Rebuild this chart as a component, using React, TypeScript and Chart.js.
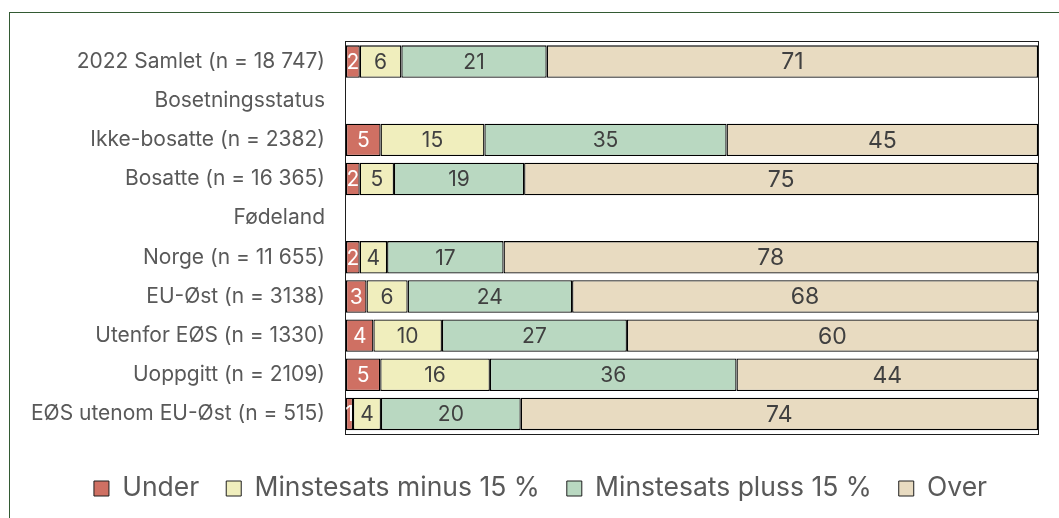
import React, { useEffect, useRef } from "react";
import { Chart, registerables } from "chart.js";

Chart.register(...registerables);

const categories = [
  "2022 Samlet (n = 18 747)",
  "Bosetningsstatus",
  "Ikke-bosatte (n = 2382)",
  "Bosatte (n = 16 365)",
  "Fødeland",
  "Norge (n = 11 655)",
  "EU-Øst (n = 3138)",
  "Utenfor EØS (n = 1330)",
  "Uoppgitt (n = 2109)",
  "EØS utenom EU-Øst (n = 515)",
];

const seriesNames = ["Under", "Minstesats minus 15 %", "Minstesats pluss 15 %", "Over"];

const under = [2, null, 5, 2, null, 2, 3, 4, 5, 1];
const minus15 = [6, null, 15, 5, null, 4, 6, 10, 16, 4];
const plus15 = [21, null, 35, 19, null, 17, 24, 27, 36, 20];
const over = [71, null, 45, 75, null, 78, 68, 60, 44, 74];

const colors = ["#cf7063", "#f0eebd", "#b9d8c1", "#e8dbc1"];
const labelColors = ["#ffffff", "#404040", "#404040", "#404040"];
const labelSizes = [21, 21, 21, 23];

const FONT = "Inter, 'Noto Sans', sans-serif";

export default function App() {
  const ref = useRef<HTMLCanvasElement | null>(null);

  useEffect(() => {
    if (!ref.current) return;
    const raw = [under, minus15, plus15, over];
    const sums = categories.map((_, i) =>
      raw.reduce((s, arr) => s + (arr[i] ?? 0), 0)
    );
    const datasets = raw.map((arr, k) => ({
      label: seriesNames[k],
      data: arr.map((v, i) => (v == null ? null : (v / sums[i]) * 100)),
      rawValues: arr,
      backgroundColor: colors[k],
      borderColor: "#000000",
      borderWidth: 1.3,
      borderSkipped: false as const,
      barPercentage: 0.83,
      categoryPercentage: 1,
    }));

    const labelPlugin = {
      id: "barLabels",
      afterLayout(chart: any) {
        const lg = chart.legend;
        if (!lg) return;
        const h = lg.height;
        lg.top = 480 - h / 2;
        lg.bottom = lg.top + h;
        lg.left = lg.left + 28;
      },
      afterDatasetsDraw(chart: any) {
        const ctx = chart.ctx;
        ctx.save();
        ctx.textAlign = "center";
        ctx.textBaseline = "middle";
        chart.data.datasets.forEach((ds: any, k: number) => {
          const meta = chart.getDatasetMeta(k);
          meta.data.forEach((el: any, i: number) => {
            const v = ds.rawValues[i];
            if (v == null) return;
            const x = (el.x + el.base) / 2;
            ctx.fillStyle = labelColors[k];
            ctx.font = `${labelSizes[k]}px ${FONT}`;
            ctx.fillText(String(v), x, el.y + 1);
          });
        });
        const xs = chart.scales.x;
        const ys = chart.scales.y;
        ctx.strokeStyle = "#1e1e1e";
        ctx.lineWidth = 1;
        ctx.strokeRect(
          Math.round(xs.left) - 0.5,
          Math.round(ys.top) - 0.5,
          Math.round(xs.right - xs.left) + 1,
          Math.round(ys.bottom - ys.top) + 1
        );
        ctx.restore();
      },
    };

    const chart = new Chart(ref.current, {
      type: "bar",
      data: { labels: categories, datasets: datasets as any },
      plugins: [labelPlugin],
      options: {
        animation: false,
        responsive: false,
        indexAxis: "y",
        layout: { padding: { left: 15, right: 21, top: 42, bottom: 21 } },
        scales: {
          x: {
            stacked: true,
            min: 0,
            max: 100,
            display: false,
          },
          y: {
            stacked: true,
            grid: { display: false, drawTicks: false },
            border: { display: false },
            afterFit: (s: any) => {
              s.width = 331;
            },
            ticks: {
              color: "#595959",
              font: { family: FONT, size: 21 },
              padding: 21,
              autoSkip: false,
            },
          },
        },
        plugins: {
          tooltip: { enabled: false },
          legend: {
            position: "bottom",
            labels: {
              color: "#595959",
              font: { family: FONT, size: 26.5 },
              boxWidth: 15,
              boxHeight: 15,
              padding: 27,
              generateLabels: (c: any) =>
                c.data.datasets.map((ds: any, k: number) => ({
                  text: ds.label,
                  fillStyle: colors[k],
                  strokeStyle: "#1e1e1e",
                  lineWidth: 1,
                  datasetIndex: k,
                  hidden: false,
                  fontColor: "#595959",
                })),
            },
          },
        },
      },
    });
    return () => chart.destroy();
  }, []);

  return (
    <div style={{ position: "fixed", left: 0, top: 0, width: 1059, height: 518, overflow: "hidden", background: "#fff" }}>
      <div
        style={{
          position: "absolute",
          left: 9,
          top: 12,
          width: 1200,
          height: 700,
          border: "1.5px solid #335a33",
          boxSizing: "border-box",
        }}
      />
      <canvas ref={ref} width={1059} height={518} style={{ position: "absolute", left: 0, top: 0, display: "block" }} />
    </div>
  );
}
